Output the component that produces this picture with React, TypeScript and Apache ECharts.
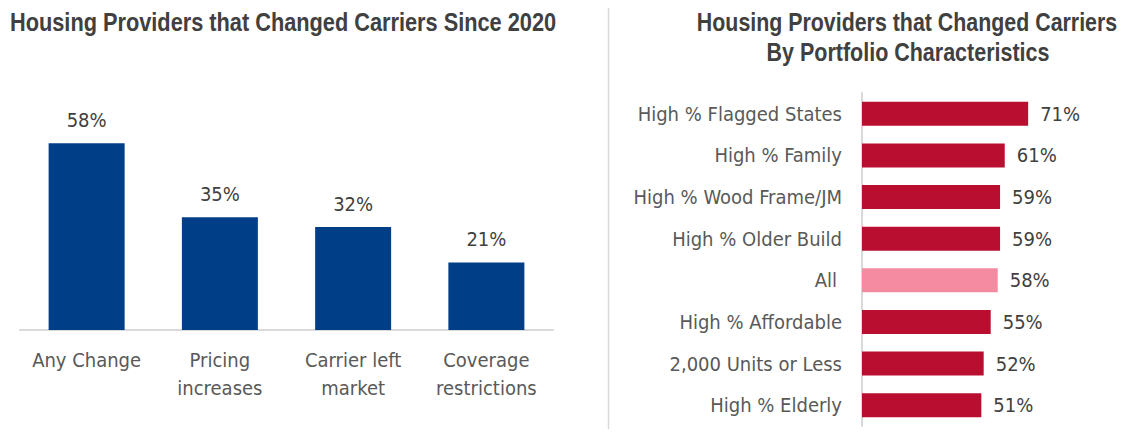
import React, { useEffect, useRef } from "react";
import * as echarts from "echarts";

const leftCategories = ["Any Change", "Pricing\nincreases", "Carrier left\nmarket", "Coverage\nrestrictions"];
const leftValues = [58, 35, 32, 21];

const rightCategories = [
  "High % Flagged States",
  "High % Family",
  "High % Wood Frame/JM",
  "High % Older Build",
  "All",
  "High % Affordable",
  "2,000 Units or Less",
  "High % Elderly",
];
const rightValues = [71, 61, 59, 59, 58, 55, 52, 51];
const highlightCategory = "All";

const leftTitle = "Housing Providers that Changed Carriers Since 2020";
const rightTitleLines = ["Housing Providers that Changed Carriers", "By Portfolio Characteristics"];

const FONT = '"DejaVu Sans Condensed", "Liberation Sans Narrow", "Arial Narrow", sans-serif';
const TITLE_FONT = '"Liberation Sans", Arial, sans-serif';
const NAVY = "#003F87";
const RED = "#BA0E30";
const PINK = "#F48BA0";

export default function App() {
  const ref = useRef<HTMLDivElement>(null);
  useEffect(() => {
    if (!ref.current) return;
    const chart = echarts.init(ref.current, undefined, { renderer: "svg" });
    const titleStyle = {
      font: `bold 25px ${TITLE_FONT}`,
      fill: "#404040",
      verticalAlign: "middle",
    };
    chart.setOption({
      animation: false,
      textStyle: { fontFamily: FONT },
      graphic: [
        {
          type: "text",
          x: 10,
          y: 22,
          scaleX: 0.87,
          style: { ...titleStyle, text: leftTitle, align: "left" },
        },
        {
          type: "text",
          x: 907,
          y: 22,
          scaleX: 0.855,
          style: { ...titleStyle, text: rightTitleLines[0], align: "center" },
        },
        {
          type: "text",
          x: 908,
          y: 52,
          scaleX: 0.86,
          style: { ...titleStyle, text: rightTitleLines[1], align: "center" },
        },
        {
          type: "line",
          shape: { x1: 608.5, y1: 5, x2: 608.5, y2: 437 },
          style: { stroke: "#d9d9d9", lineWidth: 1.5 },
        },
      ],
      grid: [
        { left: 20, width: 533, top: 8, height: 322 },
        { left: 862, width: 234, top: 93, height: 333 },
      ],
      xAxis: [
        {
          type: "category",
          gridIndex: 0,
          data: leftCategories,
          axisLine: { lineStyle: { color: "#d9d9d9", width: 2 } },
          axisTick: { show: false },
          axisLabel: {
            interval: 0,
            color: "#595959",
            fontSize: 20,
            lineHeight: 28,
            margin: 16,
            fontFamily: FONT,
          },
        },
        {
          type: "value",
          gridIndex: 1,
          min: 0,
          max: 100,
          show: false,
        },
      ],
      yAxis: [
        {
          type: "value",
          gridIndex: 0,
          min: 0,
          max: 100,
          show: false,
        },
        {
          type: "category",
          gridIndex: 1,
          inverse: true,
          data: rightCategories,
          axisLine: { show: true, lineStyle: { color: "#d9d9d9", width: 2 } },
          axisTick: { show: false },
          axisLabel: {
            interval: 0,
            color: "#595959",
            fontSize: 20,
            margin: 20,
            fontFamily: FONT,
            formatter: (v: string) => (v === highlightCategory ? `{a|${v}}` : v),
            rich: {
              a: { color: "#595959", fontSize: 20, fontFamily: FONT, padding: [0, 5, 0, 0] },
            },
          },
        },
      ],
      series: [
        {
          type: "bar",
          xAxisIndex: 0,
          yAxisIndex: 0,
          data: leftValues,
          barWidth: 76,
          itemStyle: { color: NAVY },
          label: {
            show: true,
            position: "top",
            distance: 13,
            formatter: "{c}%",
            color: "#404040",
            fontSize: 20,
            fontFamily: FONT,
          },
        },
        {
          type: "bar",
          xAxisIndex: 1,
          yAxisIndex: 1,
          data: rightValues.map((v, i) => ({
            value: v,
            itemStyle: { color: rightCategories[i] === highlightCategory ? PINK : RED },
          })),
          barWidth: 24,
          label: {
            show: true,
            position: "right",
            distance: 12,
            formatter: "{c}%",
            color: "#404040",
            fontSize: 20,
            fontFamily: FONT,
          },
        },
      ],
    });
    return () => chart.dispose();
  }, []);
  return <div ref={ref} style={{ width: 1128, height: 437, margin: -8 }} />;
}
